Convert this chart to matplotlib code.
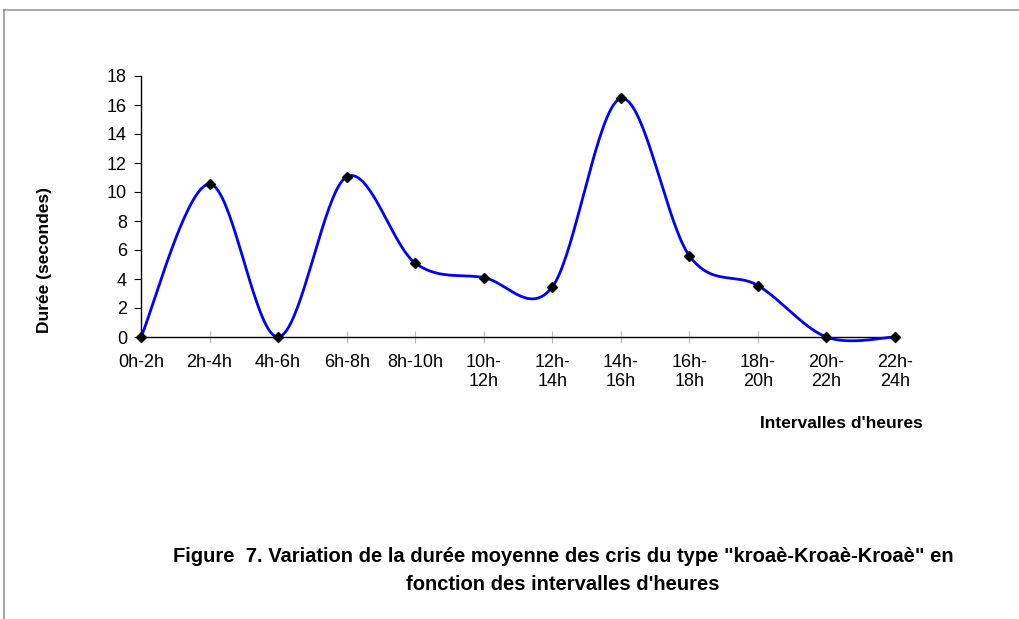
import numpy as np
import matplotlib
matplotlib.use("Agg")
import matplotlib.pyplot as plt

plt.rcParams['font.family'] = ['Liberation Sans', 'DejaVu Sans']

categories = ["0h-2h", "2h-4h", "4h-6h", "6h-8h", "8h-10h", "10h-\n12h", "12h-\n14h",
              "14h-\n16h", "16h-\n18h", "18h-\n20h", "20h-\n22h", "22h-\n24h"]
values = [0, 10.55, 0, 11.05, 5.1, 4.1, 3.45, 16.45, 5.6, 3.55, 0, 0]
y_ticks = [0, 2, 4, 6, 8, 10, 12, 14, 16, 18]

W, H = 1019, 619
fig = plt.figure(figsize=(W/100, H/100), dpi=100)

def fx(px): return px / W
def fy(py): return 1 - py / H

x0, x1, ytop, ybot = 141, 895, 76, 337
ax = fig.add_axes([fx(x0), fy(ybot), fx(x1) - fx(x0), fy(ytop) - fy(ybot)])

x = np.arange(len(values), dtype=float)
y = np.array(values, dtype=float)

# Excel-like smoothed curve (cardinal bezier)
def smooth(xs, ys, n=40, t=1/6):
    px, py = [], []
    N = len(xs)
    for i in range(N - 1):
        p0 = np.array([xs[i], ys[i]])
        p3 = np.array([xs[i+1], ys[i+1]])
        pm = np.array([xs[i-1], ys[i-1]]) if i > 0 else p0
        pp = np.array([xs[i+2], ys[i+2]]) if i + 2 < N else p3
        c1 = p0 + (p3 - pm) * t
        c2 = p3 - (pp - p0) * t
        s = np.linspace(0, 1, n)[:, None]
        b = (1-s)**3*p0 + 3*(1-s)**2*s*c1 + 3*(1-s)*s**2*c2 + s**3*p3
        px.extend(b[:, 0]); py.extend(b[:, 1])
    return np.array(px), np.array(py)

sx, sy = smooth(x, y)
ax.plot(sx, sy, color="#0000ff", lw=2, zorder=3, clip_on=False)
ax.plot(x, y, ls="none", marker="D", ms=5, color="black", zorder=4, clip_on=False)

ax.set_xlim(0, len(values) - 1)
ax.set_ylim(0, 18)
ax.set_yticks(y_ticks)
ax.set_xticks(x)
ax.set_xticklabels(categories, fontsize=13, linespacing=1.2, va="top")
ax.tick_params(axis="y", labelsize=13, length=5, width=0.8, pad=5)
ax.tick_params(axis="x", length=8, color="#bbbbbb", direction="inout", pad=8)
for s in ["top", "right"]:
    ax.spines[s].set_visible(False)
ax.spines["left"].set_linewidth(1.0)
ax.spines["bottom"].set_linewidth(1.0)
ax.spines["bottom"].set_zorder(2)

fig.text(fx(45), fy(260), "Durée (secondes)", rotation=90, ha="center", va="center",
         fontsize=12.5, fontweight="bold")
fig.text(fx(923), fy(424), "Intervalles d'heures", ha="right", va="center",
         fontsize=12.5, fontweight="bold")
fig.text(fx(563), fy(557), "Figure  7. Variation de la durée moyenne des cris du type \"kroaè-Kroaè-Kroaè\" en",
         ha="center", va="center", fontsize=14.5, fontweight="bold")
fig.text(fx(563), fy(585), "fonction des intervalles d'heures",
         ha="center", va="center", fontsize=14.5, fontweight="bold")

# outer frame (partially visible)
fig.add_artist(plt.Line2D([fx(4), 1], [fy(10), fy(10)], color="#999999", lw=1.2))
fig.add_artist(plt.Line2D([fx(4), fx(4)], [fy(10), 0], color="#999999", lw=1.2))

fig.savefig("out.png", dpi=100)
